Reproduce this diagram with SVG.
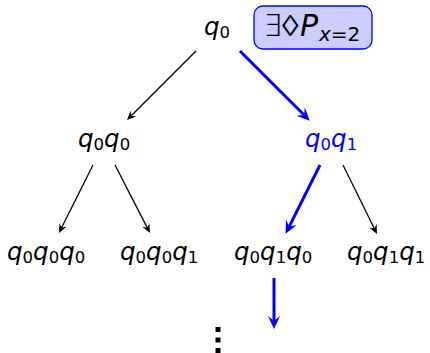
<svg xmlns="http://www.w3.org/2000/svg" width="430" height="353" viewBox="0 0 430 353">
<style>
text{font-family:"DejaVu Sans","Liberation Sans",sans-serif;font-size:24.5px;}
.q{font-style:italic;}
.s{font-size:16.5px;font-style:normal;}
.blue{fill:#0000ff;}
.bk{stroke:#000;stroke-width:1.3;fill:none;}
.bl{stroke:#0000ff;stroke-width:3;fill:none;}
.f{font-size:30px;}
.fs{font-size:20px;}
.thin{font-family:"DejaVu Sans ExtraLight","DejaVu Sans",sans-serif;font-weight:200;}
</style>
<defs>
<marker id="hb" markerUnits="userSpaceOnUse" viewBox="-10 -5 11 10" refX="-5" refY="0" markerWidth="11" markerHeight="10" orient="auto" overflow="visible">
<path d="M0,0 L-9,-4 L-6,0 L-9,4 Z" fill="#000"/>
</marker>
<marker id="hl" markerUnits="userSpaceOnUse" viewBox="-13 -7 14 14" refX="-6" refY="0" markerWidth="14" markerHeight="14" orient="auto" overflow="visible">
<path d="M1,0 L-12,-6 L-7,0 L-12,6 Z" fill="#0000ff"/>
</marker>
</defs>
<g id="connectors">
<line class="bk" x1="196" y1="51" x2="130.5" y2="116.5" marker-end="url(#hb)"/>
<line class="bl" x1="240" y1="51" x2="304.8" y2="115.8" marker-end="url(#hl)"/>
<line class="bk" x1="93" y1="165" x2="61.2" y2="228.5" marker-end="url(#hb)"/>
<line class="bk" x1="115" y1="165" x2="147.7" y2="228.6" marker-end="url(#hb)"/>
<line class="bl" x1="320" y1="165" x2="288.7" y2="227.6" marker-end="url(#hl)"/>
<line class="bk" x1="343" y1="165" x2="374.8" y2="229.5" marker-end="url(#hb)"/>
<line class="bl" x1="274" y1="278" x2="274" y2="322" marker-end="url(#hl)"/>
</g>
<g id="n0"><text x="204" y="35"><tspan class="q">q</tspan><tspan class="s" dy="3">0</tspan></text></g>
<g id="formula">
<rect x="254" y="6" width="118" height="43" rx="9" fill="#ccccff" stroke="#0000ff" stroke-width="1.3"/>
<text class="f thin" x="263" y="36">∃</text>
<text class="f thin" x="0" y="36" transform="translate(282,0) scale(1.12,1)">◊</text>
<text class="f" y="36"><tspan x="300" class="q">P</tspan><tspan x="319" y="41" class="fs q">x</tspan><tspan class="fs">=2</tspan></text>
</g>
<g id="n00"><text x="78" y="147"><tspan class="q">q</tspan><tspan class="s" dy="3">0</tspan><tspan class="q" dy="-3">q</tspan><tspan class="s" dy="3">0</tspan></text></g>
<g id="n01"><text x="305" y="147" class="blue"><tspan class="q">q</tspan><tspan class="s" dy="3">0</tspan><tspan class="q" dy="-3">q</tspan><tspan class="s" dy="3">1</tspan></text></g>
<g id="n000"><text x="7" y="260"><tspan class="q">q</tspan><tspan class="s" dy="3">0</tspan><tspan class="q" dy="-3">q</tspan><tspan class="s" dy="3">0</tspan><tspan class="q" dy="-3">q</tspan><tspan class="s" dy="3">0</tspan></text></g>
<g id="n001"><text x="120" y="260"><tspan class="q">q</tspan><tspan class="s" dy="3">0</tspan><tspan class="q" dy="-3">q</tspan><tspan class="s" dy="3">0</tspan><tspan class="q" dy="-3">q</tspan><tspan class="s" dy="3">1</tspan></text></g>
<g id="n010"><text x="234" y="260"><tspan class="q">q</tspan><tspan class="s" dy="3">0</tspan><tspan class="q" dy="-3">q</tspan><tspan class="s" dy="3">1</tspan><tspan class="q" dy="-3">q</tspan><tspan class="s" dy="3">0</tspan></text></g>
<g id="n011"><text x="347" y="260"><tspan class="q">q</tspan><tspan class="s" dy="3">0</tspan><tspan class="q" dy="-3">q</tspan><tspan class="s" dy="3">1</tspan><tspan class="q" dy="-3">q</tspan><tspan class="s" dy="3">1</tspan></text></g>
<g id="dots" fill="#000">
<rect x="215.5" y="327" width="5" height="5"/>
<rect x="215.5" y="337.5" width="5" height="5"/>
<rect x="215.5" y="348" width="5" height="5"/>
</g>
</svg>
